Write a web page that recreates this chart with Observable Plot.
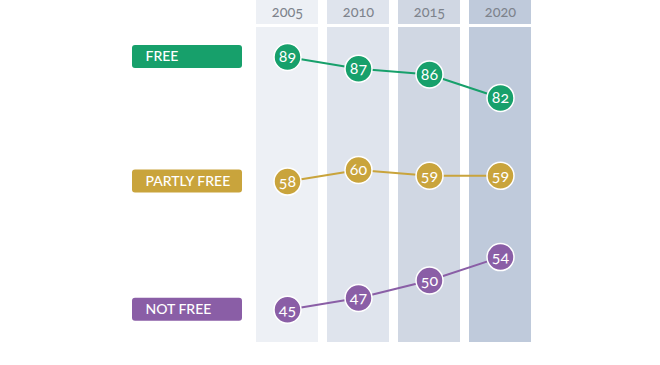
<!DOCTYPE html>
<html>
<head>
<meta charset="utf-8">
<script src="https://cdn.jsdelivr.net/npm/d3@7"></script>
<script src="https://cdn.jsdelivr.net/npm/@observablehq/plot@0.6"></script>
<style>
  html, body { margin: 0; padding: 0; background: #fff; }
  svg text { font-variant-numeric: oldstyle-nums; }
</style>
</head>
<body>
<div id="chart"></div>
<script>
const years = ["2005", "2010", "2015", "2020"];
const groups = ["FREE", "PARTLY FREE", "NOT FREE"];
const free = [89, 87, 86, 82];
const partlyFree = [58, 60, 59, 59];
const notFree = [45, 47, 50, 54];
const seriesValues = [free, partlyFree, notFree];
// vertical shift of each row (in value units) so rows are stacked like the original
const rowShift = [0, 9.7, 0.8];
const groupColors = ["#17a06b", "#c9a43c", "#8a5ea6"];
const columnFills = ["#edf0f5", "#dfe4ed", "#d0d7e3", "#bfcadb"];
const labelColor = "#7d838c";

const points = [];
groups.forEach((g, gi) => {
  years.forEach((y, yi) => {
    points.push({group: g, year: y, value: seriesValues[gi][yi], pos: seriesValues[gi][yi] + rowShift[gi], color: groupColors[gi]});
  });
});
const tags = groups.map((g, gi) => ({group: g, pos: seriesValues[gi][0] + rowShift[gi], color: groupColors[gi]}));
const cols = years.map((y, i) => ({year: y, fill: columnFills[i]}));
const yDomain = [40.2, 94.04];

const chart = Plot.plot({
  width: 660,
  height: 365,
  marginTop: 27,
  marginBottom: 23,
  marginLeft: 255,
  marginRight: 128,
  style: {fontFamily: "Lato, 'Open Sans', sans-serif", background: "#fff"},
  x: {type: "band", domain: years, paddingInner: 0.126, paddingOuter: 0, axis: null},
  y: {domain: yDomain, axis: null},
  color: {type: "identity"},
  marks: [
    Plot.cell(cols, {x: "year", fill: "fill"}),
    Plot.barY(cols, {x: "year", y1: () => yDomain[1], y2: () => yDomain[1], fill: "fill", insetTop: -27, insetBottom: 3}),
    Plot.text(cols, {x: "year", frameAnchor: "top", lineAnchor: "middle", dy: -15, text: "year", fill: labelColor, fontSize: 14.5}),
    Plot.rect(tags, {y1: "pos", y2: "pos", fill: "color", insetTop: -11.5, insetBottom: -11.5, insetLeft: -123, insetRight: 290, rx: 3}),
    Plot.text(tags, {y: "pos", frameAnchor: "left", dx: -110, text: "group", fill: "white", fontSize: 14, fontWeight: 500, textAnchor: "start"}),
    Plot.line(points, {x: "year", y: "pos", z: "group", stroke: "color", strokeWidth: 2}),
    Plot.dot(points, {x: "year", y: "pos", r: 13.5, fill: "color", stroke: "white", strokeWidth: 1.5}),
    Plot.text(points, {x: "year", y: "pos", text: d => String(d.value), fill: "white", fontSize: 16, dy: 0})
  ]
});
document.getElementById("chart").appendChild(chart);
</script>
</body>
</html>
